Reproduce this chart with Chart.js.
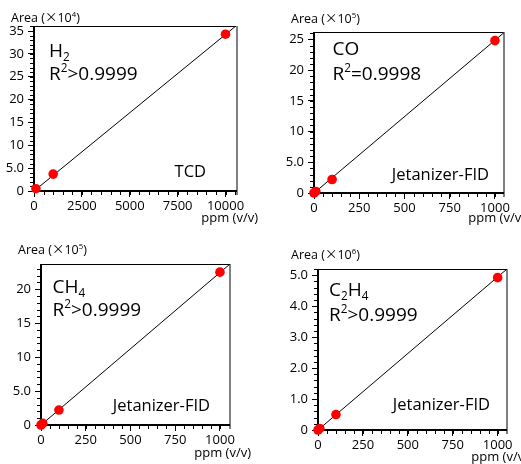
<!DOCTYPE html>
<html>
<head>
<meta charset="utf-8">
<script src="https://cdn.jsdelivr.net/npm/chart.js@4.4.1/dist/chart.umd.min.js"></script>
<style>
  body { margin: 0; background: #fff; }
  #wrap { position: relative; width: 521px; height: 464px; overflow: hidden; }
  #wrap canvas { position: absolute; }
</style>
</head>
<body>
<div id="wrap">
  <canvas id="pH2" width="260" height="232" style="left:0;top:0"></canvas>
  <canvas id="pCO" width="261" height="232" style="left:260px;top:0"></canvas>
  <canvas id="pCH4" width="260" height="232" style="left:0;top:232px"></canvas>
  <canvas id="pC2H4" width="261" height="232" style="left:260px;top:232px"></canvas>
</div>
<script>
// concentration (ppm v/v) and peak area
const h2Ppm = [100, 1000, 10000];
const h2Area = [0.5, 3.7, 34.3];          // x10^4
const h2FitPpm = [0, 10600];
const h2FitArea = [0, 36.3];

const coPpm = [0, 10, 100, 1000];
const coArea = [0, 0.25, 2.2, 24.8];      // x10^5
const coFitPpm = [0, 1050];
const coFitArea = [0, 26.1];

const ch4Ppm = [0, 10, 100, 1000];
const ch4Area = [0, 0.25, 2.2, 22.5];     // x10^5
const ch4FitPpm = [0, 1056];
const ch4FitArea = [0, 23.7];

const c2h4Ppm = [0, 10, 100, 1000];
const c2h4Area = [0, 0.05, 0.5, 4.92];    // x10^6
const c2h4FitPpm = [0, 1052];
const c2h4FitArea = [0, 5.2];

const h2XTicks = [0, 2500, 5000, 7500, 10000];
const fidXTicks = [0, 250, 500, 750, 1000];

const FONT = "'Open Sans', sans-serif";
const CJK = "'Noto Sans CJK JP', sans-serif";

function pts(xs, ys) {
  return xs.map((x, i) => ({ x: x, y: ys[i] }));
}

function drawParts(ctx, parts, x, y, size, align) {
  const segs = parts.map(p => {
    const mode = p[1] || '';
    const s = mode ? size * 0.62 : size;
    const fam = p[2] || FONT;
    ctx.font = s + 'px ' + fam;
    return { t: p[0], mode: mode, s: s, fam: fam, w: ctx.measureText(p[0]).width };
  });
  const total = segs.reduce((a, g) => a + g.w, 0);
  let cx = align === 'right' ? x - total : x;
  ctx.textAlign = 'left';
  ctx.textBaseline = 'alphabetic';
  for (const g of segs) {
    ctx.font = g.s + 'px ' + g.fam;
    const dy = g.mode === 'sub' ? size * 0.22 : g.mode === 'sup' ? -size * 0.42 : 0;
    ctx.fillText(g.t, cx, y + dy);
    cx += g.w;
  }
}

function makeDecor(cfg) {
  return {
    id: 'decor',
    beforeDatasetsDraw(chart) {
      const { ctx, chartArea: a, scales } = chart;
      const xs = scales.x, ys = scales.y;
      ctx.save();
      // minor ticks (majors come from the axes themselves)
      ctx.strokeStyle = '#000';
      ctx.lineWidth = 1;
      ctx.beginPath();
      for (let v = 0; v <= xs.max + 1e-9; v += cfg.xMinor) {
        const px = Math.round(xs.getPixelForValue(v)) + 0.5;
        ctx.moveTo(px, a.bottom);
        ctx.lineTo(px, a.bottom + 4);
      }
      for (let v = 0; v <= ys.max + 1e-9; v += cfg.yMinor) {
        const py = Math.round(ys.getPixelForValue(v)) + 0.5;
        ctx.moveTo(a.left, py);
        ctx.lineTo(a.left - 4, py);
      }
      ctx.stroke();

      // frame: thin top, grey right, heavy left/bottom
      ctx.beginPath();
      ctx.moveTo(a.left, a.top + 0.5);
      ctx.lineTo(a.right, a.top + 0.5);
      ctx.stroke();
      ctx.strokeStyle = '#808080';
      ctx.lineWidth = 2;
      ctx.beginPath();
      ctx.moveTo(a.right, a.top);
      ctx.lineTo(a.right, a.bottom + 4);
      ctx.stroke();
      ctx.strokeStyle = '#000';
      ctx.beginPath();
      ctx.moveTo(a.left, a.top);
      ctx.lineTo(a.left, a.bottom + 1);
      ctx.moveTo(a.left - 1, a.bottom);
      ctx.lineTo(a.right, a.bottom);
      ctx.stroke();
      ctx.restore();
    },
    afterDraw(chart) {
      const { ctx, chartArea: a } = chart;
      ctx.save();
      ctx.fillStyle = '#000';
      drawParts(ctx, cfg.title, a.left + cfg.tx, a.top + cfg.ty1, 19);
      drawParts(ctx, [['R'], ['2', 'sup'], [cfg.r2]], a.left + cfg.tx, a.top + cfg.ty2, 19);
      drawParts(ctx, [[cfg.det]], a.right + cfg.dx, a.bottom + cfg.dy, 16.5, 'right');
      drawParts(ctx, [['Area ('], ['\u00d7', '', CJK], ['10'], [cfg.exp, 'sup'], [')']],
        a.left + cfg.ax, a.top + cfg.ay, 12.5);
      drawParts(ctx, [['ppm (v/v)']], a.right + 21, a.bottom + cfg.py, 13, 'right');
      ctx.restore();
    }
  };
}

const axisGrid = { display: true, drawOnChartArea: false, drawTicks: true, tickLength: 6, color: '#000', lineWidth: 1 };

function makeChart(id, cfg) {
  const fmt = cfg.yFmt || (v => (v === 5 ? '5.0' : String(v)));
  new Chart(document.getElementById(id), {
    type: 'scatter',
    data: {
      datasets: [
        {
          data: pts(cfg.xs, cfg.ys),
          backgroundColor: '#ff0000',
          borderColor: '#ff0000',
          pointRadius: 4.8,
          borderWidth: 0,
          clip: false
        },
        {
          data: pts(cfg.fx, cfg.fy),
          showLine: true,
          borderColor: '#000',
          borderWidth: 1,
          pointRadius: 0
        }
      ]
    },
    options: {
      responsive: false,
      animation: false,
      events: [],
      layout: { padding: { top: cfg.top, right: cfg.right, bottom: 0, left: 0 } },
      plugins: { legend: { display: false }, tooltip: { enabled: false } },
      scales: {
        x: {
          type: 'linear',
          min: 0,
          max: cfg.xMax,
          afterFit: s => { s.height = cfg.xh; },
          afterBuildTicks: s => { s.ticks = cfg.xTicks.map(v => ({ value: v })); },
          grid: axisGrid,
          border: { display: false },
          ticks: {
            padding: 1, color: '#000', font: { family: FONT, size: 13 }, maxRotation: 0,
            callback: v => String(v)
          }
        },
        y: {
          type: 'linear',
          min: 0,
          max: cfg.yMax,
          afterFit: s => { s.width = cfg.yw; },
          afterBuildTicks: s => { s.ticks = cfg.yTicks.map(v => ({ value: v })); },
          grid: axisGrid,
          border: { display: false },
          ticks: { padding: 4, color: '#000', font: { family: FONT, size: 13 }, callback: fmt }
        }
      }
    },
    plugins: [makeDecor(cfg)]
  });
}

makeChart('pH2', {
  xs: h2Ppm, ys: h2Area, fx: h2FitPpm, fy: h2FitArea,
  xMax: 10600, yMax: 36.1, xTicks: h2XTicks, yTicks: [0, 5, 10, 15, 20, 25, 30, 35],
  xMinor: 500, yMinor: 1,
  yw: 34, xh: 41, top: 26, right: 23,
  title: [['H'], ['2', 'sub']], r2: '>0.9999', tx: 15, ty1: 31, ty2: 54,
  det: 'TCD', dx: -31, dy: -14, exp: '4', ax: -23, ay: -4, py: 31
});

makeChart('pCO', {
  xs: coPpm, ys: coArea, fx: coFitPpm, fy: coFitArea,
  xMax: 1050, yMax: 26.2, xTicks: fidXTicks, yTicks: [0, 5, 10, 15, 20, 25],
  xMinor: 50, yMinor: 1,
  yw: 54, xh: 39, top: 32, right: 17,
  title: [['CO']], r2: '=0.9998', tx: 18.5, ty1: 23, ty2: 48,
  det: 'Jetanizer-FID', dx: -15, dy: -13, exp: '5', ax: -23, ay: -9, py: 29
});

makeChart('pCH4', {
  xs: ch4Ppm, ys: ch4Area, fx: ch4FitPpm, fy: ch4FitArea,
  xMax: 1056, yMax: 23.7, xTicks: fidXTicks, yTicks: [0, 5, 10, 15, 20],
  xMinor: 50, yMinor: 1,
  yw: 41, xh: 39, top: 32, right: 30,
  title: [['CH'], ['4', 'sub']], r2: '>0.9999', tx: 11.5, ty1: 28.5, ty2: 51.5,
  det: 'Jetanizer-FID', dx: -20, dy: -14, exp: '5', ax: -23, ay: -10, py: 32
});

makeChart('pC2H4', {
  xs: c2h4Ppm, ys: c2h4Area, fx: c2h4FitPpm, fy: c2h4FitArea,
  xMax: 1052, yMax: 5.2, xTicks: fidXTicks, yTicks: [0, 1, 2, 3, 4, 5],
  xMinor: 50, yMinor: 0.2,
  yw: 58, xh: 34, top: 37, right: 14,
  yFmt: v => (v === 0 ? '0' : v.toFixed(1)),
  title: [['C'], ['2', 'sub'], ['H'], ['4', 'sub']], r2: '>0.9999', tx: 11, ty1: 26.5, ty2: 51.5,
  det: 'Jetanizer-FID', dx: -17, dy: -20, exp: '6', ax: -27, ay: -10, py: 31
});
</script>
</body>
</html>
